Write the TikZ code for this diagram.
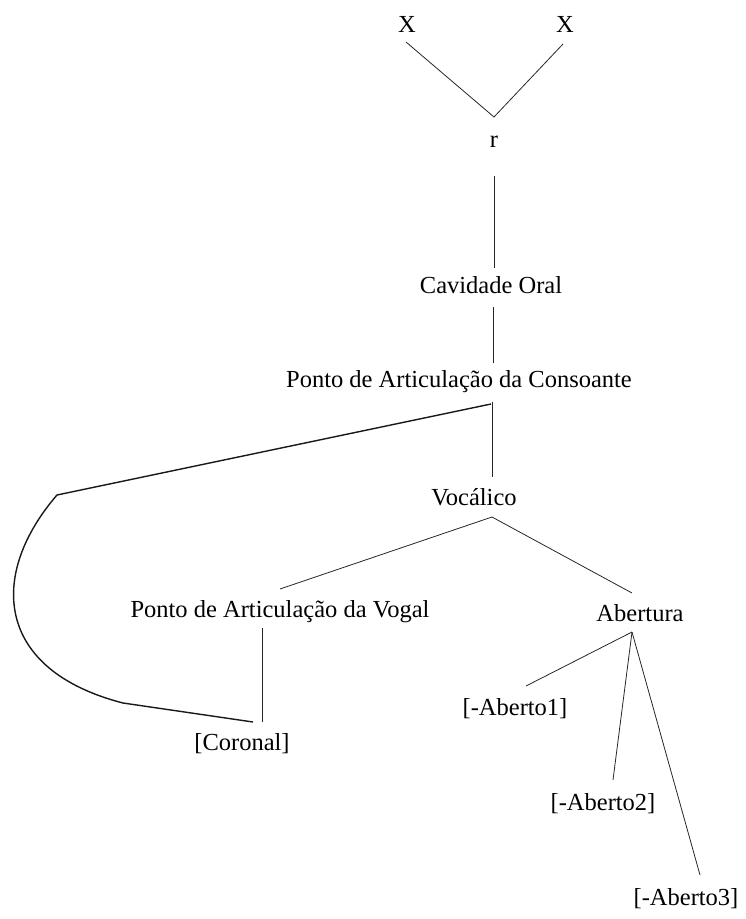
\documentclass[tikz,border=0pt]{standalone}
\usepackage{fontspec}
\setmainfont{Liberation Serif}
\usetikzlibrary{calc}

\tikzset{
  lbl/.style={anchor=base, inner sep=0pt, font=\fontsize{24.5}{28}\selectfont},
  branch/.style={line width=0.8pt, draw=black!85},
  loopline/.style={line width=1.4pt, draw=black!90, line join=round},
}

\begin{document}
\begin{tikzpicture}[x=1pt, y=-1pt]
  \useasboundingbox (0,0) rectangle (746,919);

  % labels of the feature tree
  \node[lbl] (xl)  at (407,32)  {X};
  \node[lbl] (xr)  at (565,32)  {X};
  \node[lbl] (r)   at (494,147) {r};
  \node[lbl] (cav) at (491,293) {Cavidade Oral};
  \node[lbl] (pac) at (459,387) {Ponto de Articulação da Consoante};
  \node[lbl] (voc) at (474,505) {Vocálico};
  \node[lbl] (pav) at (280,617) {Ponto de Articulação da Vogal};
  \node[lbl] (abe) at (640,621) {Abertura};
  \node[lbl] (cor) at (242,750) {[Coronal]};
  \node[lbl] (a1)  at (515,715) {[-Aberto1]};
  \node[lbl] (a2)  at (603,810) {[-Aberto2]};
  \node[lbl] (a3)  at (686,905) {[-Aberto3]};

  % both skeletal slots share the root
  \coordinate (rtop) at ($(r.base)+(0,-30)$);
  \draw[branch] ($(xl.base)+(-1,10)$) -- (rtop) -- ($(xr.base)+(-2,12)$);

  % spine
  \draw[branch] ($(r.base)+(0,29)$) -- ($(cav.base)+(3,-25)$);
  \draw[branch] ($(cav.base)+(2,14)$) -- ($(pac.base)+(34,-24)$);
  \draw[branch] ($(pac.base)+(33,15)$) -- ($(voc.base)+(18,-28)$);

  % Vocalico splits
  \coordinate (vtop) at ($(voc.base)+(18,12)$);
  \draw[branch] ($(pav.base)+(0,-28)$) -- (vtop) -- ($(abe.base)+(-8,-28)$);
  \draw[branch] ($(pav.base)+(-18,11)$) -- ($(cor.base)+(20,-28)$);

  % Abertura splits
  \coordinate (atop) at ($(abe.base)+(-8,11)$);
  \draw[branch] (atop) -- ($(a1.base)+(11,-29)$);
  \draw[branch] (atop) -- ($(a2.base)+(10,-30)$);
  \draw[branch] (atop) -- ($(a3.base)+(14,-30)$);

  % shared Coronal link
  \coordinate (loopa) at (57,495);
  \coordinate (loopb) at (123,703);
  \draw[loopline] ($(pac.base)+(32,17)$) -- (loopa)
    .. controls (-12,575) and (-5,670) .. (loopb)
    -- ($(cor.base)+(11,-28)$);
\end{tikzpicture}
\end{document}
